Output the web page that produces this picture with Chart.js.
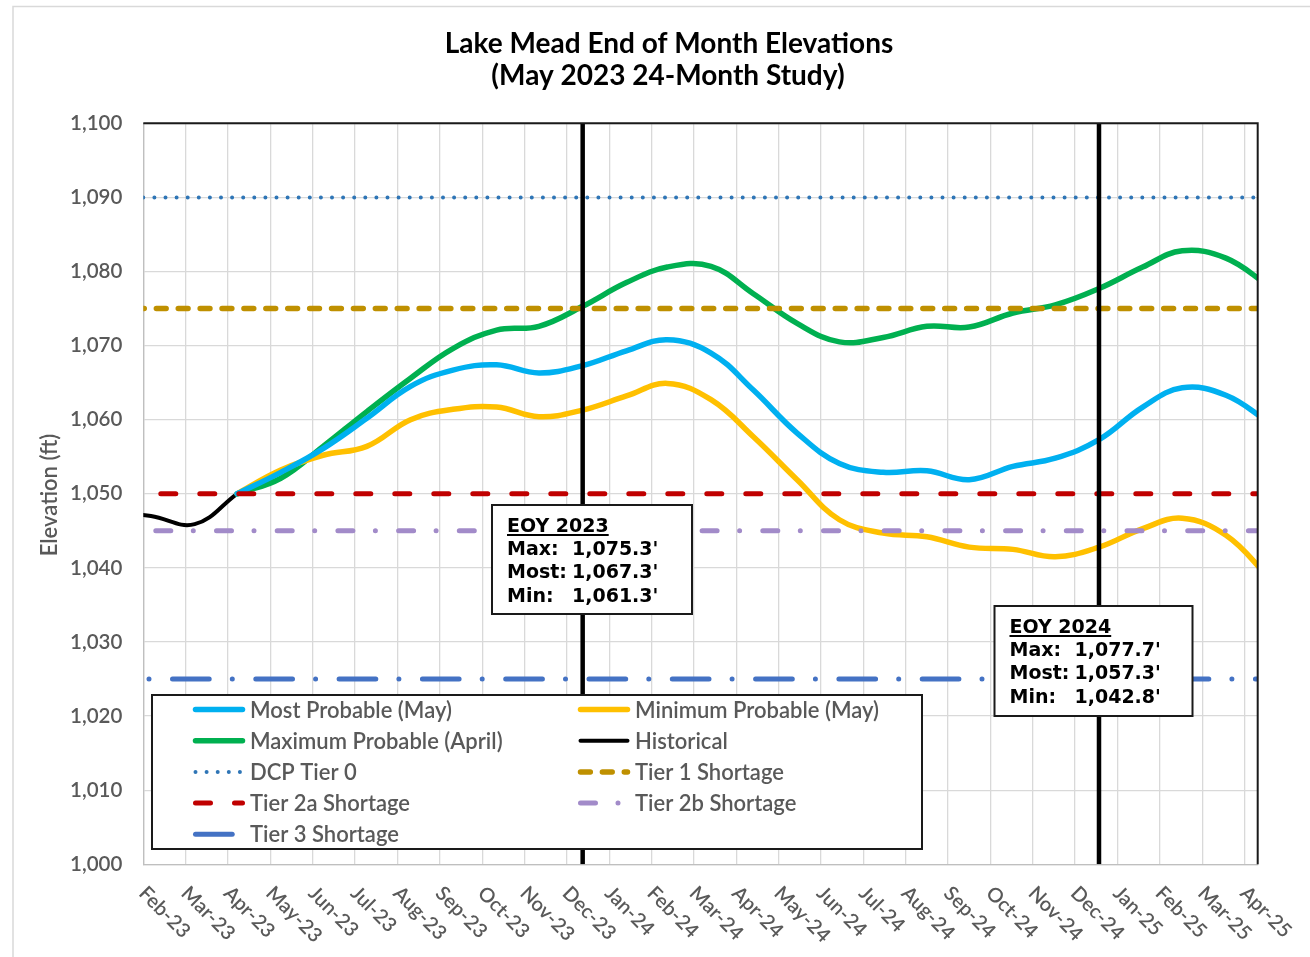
<!DOCTYPE html>
<html>
<head>
<meta charset="utf-8">
<title>Lake Mead End of Month Elevations</title>
<script src="https://cdn.jsdelivr.net/npm/chart.js@4.4.1/dist/chart.umd.min.js"></script>
<style>
  html, body { margin: 0; padding: 0; background: #fff; }
  canvas { display: block; }
</style>
</head>
<body>
<canvas id="mead" width="1310" height="957"></canvas>
<script>
// month grid / tick labels
var monthLabels = ['Feb-23', 'Mar-23', 'Apr-23', 'May-23', 'Jun-23', 'Jul-23', 'Aug-23', 'Sep-23',
  'Oct-23', 'Nov-23', 'Dec-23', 'Jan-24', 'Feb-24', 'Mar-24', 'Apr-24', 'May-24', 'Jun-24',
  'Jul-24', 'Aug-24', 'Sep-24', 'Oct-24', 'Nov-24', 'Dec-24', 'Jan-25', 'Feb-25', 'Mar-25', 'Apr-25'];

// end of month projections (ft), Apr-23 .. Apr-25
var projMonths = ['Apr-23', 'May-23', 'Jun-23', 'Jul-23', 'Aug-23', 'Sep-23', 'Oct-23', 'Nov-23',
  'Dec-23', 'Jan-24', 'Feb-24', 'Mar-24', 'Apr-24', 'May-24', 'Jun-24', 'Jul-24', 'Aug-24',
  'Sep-24', 'Oct-24', 'Nov-24', 'Dec-24', 'Jan-25', 'Feb-25', 'Mar-25', 'Apr-25'];
var mostProbable = [1050.0, 1052.9, 1056.1, 1060.2, 1064.5, 1066.7, 1067.4, 1066.3, 1067.3, 1069.3,
  1070.8, 1069.0, 1064.0, 1058.2, 1054.1, 1052.9, 1053.1, 1051.9, 1053.7, 1054.8, 1057.3, 1061.7,
  1064.3, 1063.3, 1059.7];
var minProbable = [1050.0, 1053.2, 1055.2, 1056.4, 1060.0, 1061.4, 1061.7, 1060.4, 1061.3, 1063.2,
  1064.9, 1062.7, 1057.7, 1051.9, 1046.5, 1044.7, 1044.2, 1042.8, 1042.5, 1041.5, 1042.8, 1045.3,
  1046.7, 1044.4, 1038.8];
var maxProbable = [1050.0, 1052.1, 1056.4, 1061.1, 1065.6, 1069.6, 1072.1, 1072.6, 1075.3, 1078.5,
  1080.6, 1080.7, 1077.0, 1073.0, 1070.5, 1071.1, 1072.6, 1072.5, 1074.4, 1075.5, 1077.7, 1080.6,
  1082.8, 1081.8, 1078.1];

var histMonths = ['Jan-23', 'Feb-23', 'Mar-23', 'Apr-23'];
var historical = [1047.5, 1047.0, 1045.9, 1050.0];

// shortage tiers (ft)
var dcpTier0 = 1090, tier1 = 1075, tier2a = 1050, tier2b = 1045, tier3 = 1025;

// end of year boxes
var eoyMonths = ['Dec-23', 'Dec-24'];
var eoyYears = ['2023', '2024'];
var eoyMax = [1075.3, 1077.7];
var eoyMost = [1067.3, 1057.3];
var eoyMin = [1061.3, 1042.8];

// data sit on a days axis (days since 1 Feb 2023), grid on a month axis
var xDayMin = 21.55, xDayMax = 811.5, gridMax = 26.31;

var MON = { Jan: 0, Feb: 1, Mar: 2, Apr: 3, May: 4, Jun: 5, Jul: 6, Aug: 7, Sep: 8, Oct: 9, Nov: 10, Dec: 11 };
var day0 = Date.UTC(2023, 1, 1);
function endOfMonth(label) {
  var m = MON[label.slice(0, 3)], y = 2000 + parseInt(label.slice(4), 10);
  return (Date.UTC(y, m + 1, 0) - day0) / 86400000;
}
function series(months, values) {
  return months.map(function (m, i) { return { x: endOfMonth(m), y: values[i] }; });
}
function level(v) { return [{ x: xDayMin, y: v }, { x: xDayMax, y: v }]; }
function fmt(v) { return v.toLocaleString('en-US', { minimumFractionDigits: 1 }) + "'"; }

var curve = { tension: 0.4, capBezierPoints: false, pointRadius: 0, borderCapStyle: 'round', order: 2, clip: 0 };
var flat = { tension: 0, pointRadius: 0, borderCapStyle: 'round', order: 1, clip: 0 };

var datasets = [
  Object.assign({ label: 'Most Probable (May)', data: series(projMonths, mostProbable), borderColor: '#00B0F0', borderWidth: 5.5 }, curve),
  Object.assign({ label: 'Minimum Probable (May)', data: series(projMonths, minProbable), borderColor: '#FFC000', borderWidth: 5.5 }, curve),
  Object.assign({ label: 'Maximum Probable (April)', data: series(projMonths, maxProbable), borderColor: '#00B050', borderWidth: 5.5 }, curve),
  Object.assign({ label: 'Historical', data: series(histMonths, historical), borderColor: '#000000', borderWidth: 4 }, curve),
  Object.assign({ label: 'DCP Tier 0', data: level(dcpTier0), borderColor: '#2E75B6', borderWidth: 4, borderDash: [0, 11.1] }, flat),
  Object.assign({ label: 'Tier 1 Shortage', data: level(tier1), borderColor: '#BF9000', borderWidth: 5.5, borderDash: [9.8, 12.1], borderDashOffset: 8.85 }, flat),
  Object.assign({ label: 'Tier 2a Shortage', data: level(tier2a), borderColor: '#C00000', borderWidth: 5, borderDash: [15, 24], borderDashOffset: 21.5 }, flat),
  Object.assign({ label: 'Tier 2b Shortage', data: level(tier2b), borderColor: '#A28BC9', borderWidth: 5, borderDash: [15, 22.5, 0, 23.2], borderDashOffset: 48.2 }, flat),
  Object.assign({ label: 'Tier 3 Shortage', data: level(tier3), borderColor: '#4472C4', borderWidth: 5, borderDash: [36.7, 23.1, 0, 23.5], borderDashOffset: 54.1 }, flat)
];
eoyMonths.forEach(function (m) {
  var d = endOfMonth(m);
  datasets.push({ label: '', data: [{ x: d, y: 1000 }, { x: d, y: 1100 }], borderColor: '#000', borderWidth: 4.5,
    pointRadius: 0, tension: 0, order: 0, clip: 0 });
});

var framePlugin = {
  id: 'frame',
  beforeDraw: function (chart) {
    var ctx = chart.ctx;
    ctx.save();
    ctx.strokeStyle = '#d9d9d9';
    ctx.lineWidth = 1.5;
    ctx.beginPath();
    ctx.moveTo(13, 957); ctx.lineTo(13, 6.5); ctx.lineTo(1310, 6.5);
    ctx.stroke();
    ctx.restore();
  },
  afterDatasetsDraw: function (chart) {
    var a = chart.chartArea, ctx = chart.ctx;
    ctx.save();
    ctx.strokeStyle = '#1a1a1a';
    ctx.lineWidth = 2;
    ctx.beginPath();
    ctx.moveTo(a.left, a.top); ctx.lineTo(a.right, a.top); ctx.lineTo(a.right, a.bottom);
    ctx.stroke();
    ctx.restore();
  }
};

var textPlugin = {
  id: 'texts',
  afterDraw: function (chart) {
    var ctx = chart.ctx, xg = chart.scales.xg;
    ctx.save();
    // title
    ctx.fillStyle = '#000';
    ctx.textAlign = 'center';
    ctx.textBaseline = 'alphabetic';
    ctx.font = 'bold 28px Lato';
    ctx.fillText('Lake Mead End of Month Elevations', 669, 53);
    ctx.fillText('(May 2023 24-Month Study)', 668, 85);
    // y title
    ctx.fillStyle = '#595959';
    ctx.font = '600 22px Lato';
    ctx.save();
    ctx.translate(57, 495);
    ctx.rotate(-Math.PI / 2);
    ctx.fillText('Elevation (ft)', 0, 0);
    ctx.restore();
    // month labels
    ctx.font = '600 20px Lato';
    ctx.textAlign = 'left';
    ctx.textBaseline = 'middle';
    monthLabels.forEach(function (lab, i) {
      ctx.save();
      ctx.translate(xg.getPixelForValue(i) - 1, 890);
      ctx.rotate(Math.PI / 4);
      ctx.fillText(lab, 0, 0);
      ctx.restore();
    });
    ctx.restore();
  }
};

var legendPlugin = {
  id: 'boxLegend',
  afterDraw: function (chart) {
    var ctx = chart.ctx;
    ctx.save();
    ctx.fillStyle = '#fff';
    ctx.fillRect(152, 695, 770, 154);
    ctx.lineWidth = 2;
    ctx.strokeStyle = '#1a1a1a';
    ctx.strokeRect(152, 695, 770, 154);
    var items = chart.data.datasets.filter(function (d) { return d.label; });
    items.forEach(function (ds, i) {
      var col = i % 2, row = Math.floor(i / 2);
      var x0 = col ? 578 : 193, y = 709.5 + row * 31.2;
      ctx.save();
      ctx.strokeStyle = ds.borderColor;
      ctx.lineWidth = ds.borderWidth;
      ctx.lineCap = 'round';
      ctx.setLineDash(ds.borderDash || []);
      ctx.lineDashOffset = 0;
      ctx.beginPath();
      ctx.moveTo(x0 + 2.5, y);
      ctx.lineTo(x0 + 49.5, y);
      ctx.stroke();
      ctx.restore();
      ctx.fillStyle = '#595959';
      ctx.font = '600 22px Lato';
      ctx.textAlign = 'left';
      ctx.textBaseline = 'alphabetic';
      ctx.fillText(ds.label, col ? 635 : 250, y + 8);
    });
    ctx.restore();
  }
};

var eoyPlugin = {
  id: 'eoyBoxes',
  afterDraw: function (chart) {
    var ctx = chart.ctx;
    var boxes = [{ x: 492, y: 505, w: 200, h: 109 }, { x: 994.5, y: 606, w: 198, h: 110 }];
    ctx.save();
    boxes.forEach(function (b, i) {
      ctx.fillStyle = '#fff';
      ctx.fillRect(b.x, b.y, b.w, b.h);
      ctx.lineWidth = 2;
      ctx.strokeStyle = '#1a1a1a';
      ctx.strokeRect(b.x, b.y, b.w, b.h);
      ctx.fillStyle = '#000';
      ctx.font = 'bold 19px "DejaVu Sans"';
      ctx.textAlign = 'left';
      ctx.textBaseline = 'alphabetic';
      var tx = b.x + 15, vx = b.x + 80, base = b.y + 26.5;
      var head = 'EOY ' + eoyYears[i];
      ctx.fillText(head, tx, base);
      ctx.fillRect(tx, base + 2.5, ctx.measureText(head).width, 2);
      ctx.fillText('Max:', tx, base + 23.3);
      ctx.fillText(fmt(eoyMax[i]), vx, base + 23.3);
      ctx.fillText('Most:', tx, base + 46.6);
      ctx.fillText(fmt(eoyMost[i]), vx, base + 46.6);
      ctx.fillText('Min:', tx, base + 70);
      ctx.fillText(fmt(eoyMin[i]), vx, base + 70);
    });
    ctx.restore();
  }
};

new Chart(document.getElementById('mead'), {
  type: 'line',
  data: { datasets: datasets },
  plugins: [framePlugin, textPlugin, legendPlugin, eoyPlugin],
  options: {
    responsive: false,
    animation: false,
    events: [],
    layout: { padding: { left: 0, top: 123.3, right: 52.3, bottom: 0 } },
    plugins: { legend: { display: false }, tooltip: { enabled: false }, title: { display: false } },
    scales: {
      x: { type: 'linear', min: xDayMin, max: xDayMax, display: false },
      xg: {
        type: 'linear', position: 'bottom', min: 0, max: gridMax,
        afterBuildTicks: function (s) { s.ticks = monthLabels.map(function (l, i) { return { value: i }; }); },
        ticks: { display: false },
        grid: { color: '#d9d9d9', lineWidth: 1.3, drawTicks: false },
        border: { color: '#bfbfbf', width: 1.3 },
        afterFit: function (s) { s.height = 957 - 864.3; }
      },
      y: {
        type: 'linear', min: 1000, max: 1100,
        ticks: {
          stepSize: 10, padding: 21, color: '#595959', font: { family: 'Lato', size: 20.5, weight: '600' },
          callback: function (v) { return v.toLocaleString('en-US'); }
        },
        grid: { color: '#d9d9d9', lineWidth: 1.3, drawTicks: false },
        border: { color: '#bfbfbf', width: 1.3 },
        afterFit: function (s) { s.width = 143.3; }
      }
    }
  }
});
</script>
</body>
</html>
